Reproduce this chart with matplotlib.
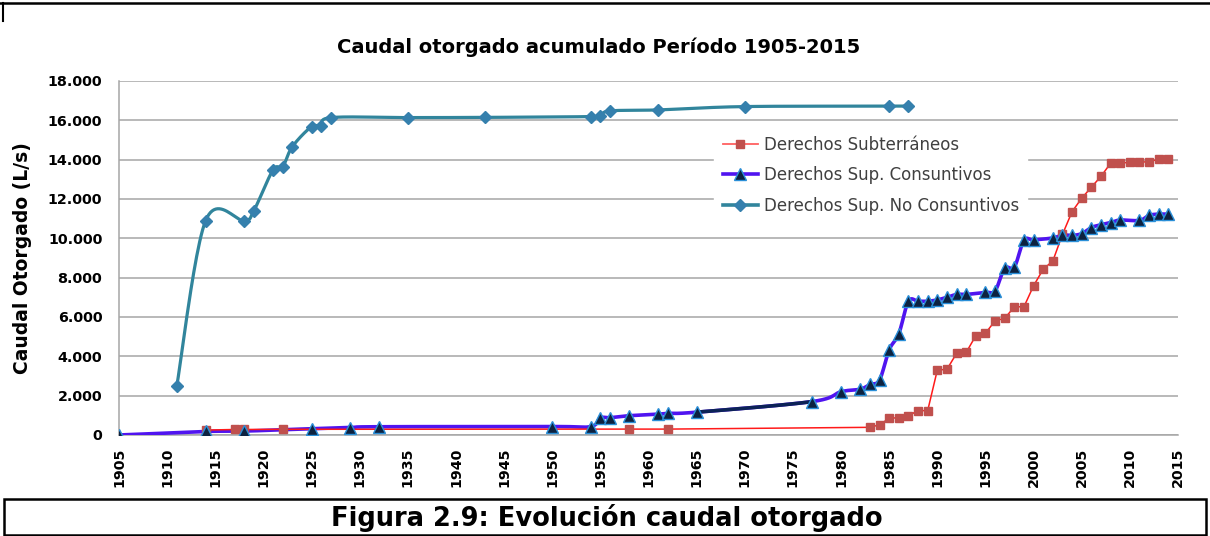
import numpy as np
import matplotlib
matplotlib.use("Agg")
import matplotlib.pyplot as plt
from matplotlib.lines import Line2D
from matplotlib.patches import Rectangle
from matplotlib.ticker import FuncFormatter

plt.rcParams["font.family"] = "DejaVu Sans"

# --- data ------------------------------------------------------------------
sub_years = [1914, 1917, 1918, 1922, 1958, 1962, 1983, 1984, 1985, 1986, 1987,
             1988, 1989, 1990, 1991, 1992, 1993, 1994, 1995, 1996, 1997, 1998,
             1999, 2000, 2001, 2002, 2003, 2004, 2005, 2006, 2007, 2008, 2009,
             2010, 2011, 2012, 2013, 2014]
sub_vals = [250, 280, 280, 290, 300, 300, 390, 520, 850, 880, 980,
            1240, 1240, 3300, 3340, 4150, 4200, 5050, 5170, 5810, 5930, 6520,
            6520, 7590, 8430, 8850, 10200, 11360, 12040, 12600, 13150, 13820, 13820,
            13870, 13870, 13900, 14020, 14020]

con_years = [1905, 1914, 1918, 1925, 1929, 1932, 1950, 1954, 1955, 1956, 1958,
             1961, 1962, 1965, 1977, 1980, 1982, 1983, 1984, 1985, 1986, 1987,
             1988, 1989, 1990, 1991, 1992, 1993, 1995, 1996, 1997, 1998, 1999,
             2000, 2002, 2003, 2004, 2005, 2006, 2007, 2008, 2009, 2011, 2012,
             2013, 2014]
con_vals = [0, 180, 200, 320, 380, 420, 430, 430, 870, 880, 980,
            1060, 1100, 1160, 1700, 2200, 2330, 2570, 2800, 4330, 5150, 6800,
            6800, 6800, 6870, 7000, 7150, 7150, 7250, 7330, 8480, 8540, 9900,
            9920, 10020, 10170, 10150, 10240, 10550, 10690, 10800, 10930, 10910, 11170,
            11230, 11230]

nc_years = [1911, 1914, 1918, 1919, 1921, 1922, 1923, 1925, 1926, 1927, 1935,
            1943, 1954, 1955, 1956, 1961, 1970, 1985, 1987]
nc_vals = [2480, 10900, 10900, 11400, 13480, 13640, 14660, 15680, 15700, 16140,
           16140, 16150, 16190, 16240, 16480, 16530, 16700, 16720, 16740]

labels = ["Derechos Subterráneos", "Derechos Sup. Consuntivos",
          "Derechos Sup. No Consuntivos"]
x_ticks = list(range(1905, 2016, 5))
y_ticks = list(range(0, 18001, 2000))


def smooth(x, y, n=24):
    """Excel-like smoothed line (Catmull-Rom via cubic Bezier)."""
    pts = np.column_stack([x, y]).astype(float)
    P = np.vstack([pts[0], pts, pts[-1]])
    t = np.linspace(0, 1, n)[:, None]
    segs = []
    for i in range(1, len(P) - 2):
        p0, p1, p2, p3 = P[i - 1], P[i], P[i + 1], P[i + 2]
        c1 = p1 + (p2 - p0) / 6
        c2 = p2 - (p3 - p1) / 6
        segs.append((1 - t) ** 3 * p1 + 3 * (1 - t) ** 2 * t * c1
                    + 3 * (1 - t) * t ** 2 * c2 + t ** 3 * p2)
    return segs


fig = plt.figure(figsize=(12.10, 5.36), dpi=100)
ax = fig.add_axes([119 / 1210, 1 - 435 / 536, 1059 / 1210, 354 / 536])

ax.set_xlim(1905, 2015)
ax.set_ylim(0, 18000)
ax.set_yticks(y_ticks)
ax.set_xticks(x_ticks)
ax.yaxis.set_major_formatter(FuncFormatter(lambda v, p: f"{int(v):,}".replace(",", ".")))
ax.grid(axis="y", color="#a6a6a6", lw=1.1, zorder=0)
ax.set_axisbelow(True)
for s in ["top", "right"]:
    ax.spines[s].set_visible(False)
for s in ["left", "bottom"]:
    ax.spines[s].set_color("#a6a6a6")
    ax.spines[s].set_linewidth(1.1)
ax.tick_params(length=0)
ax.tick_params(axis="y", pad=12, labelsize=10.3)
ax.tick_params(axis="x", pad=9, labelsize=10.3, rotation=90)
for lab in ax.get_yticklabels() + ax.get_xticklabels():
    lab.set_fontweight("bold")
for lab in ax.get_xticklabels():
    lab.set_verticalalignment("top")

# non-consumptive (teal)
nc_segs = smooth(nc_years, nc_vals)
nc_curve = np.vstack(nc_segs)
ax.plot(nc_curve[:, 0], nc_curve[:, 1], color="#31859c", lw=2.3, zorder=3,
        solid_capstyle="round")
ax.plot(nc_years, nc_vals, ls="none", marker="D", ms=6.5, color="#3580ad",
        mec="#3580ad", zorder=4)

# consumptive (purple, navy stretch 1965-1977)
con_segs = smooth(con_years, con_vals)
con_curve = np.vstack(con_segs)
ax.plot(con_curve[:, 0], con_curve[:, 1], color="#5014f0", lw=2.6, zorder=3,
        solid_capstyle="round")
i65 = con_years.index(1965)
navy = con_segs[i65]
ax.plot(navy[:, 0], navy[:, 1], color="#0c2356", lw=2.6, zorder=3)
ax.plot(con_years, con_vals, ls="none", marker="^", ms=8.5, color="#0d2240",
        mec="#2a8fd8", mew=1.0, zorder=5)

# groundwater (red)
ax.plot(sub_years, sub_vals, color="#ff1a1a", lw=1.1, zorder=4)
ax.plot(sub_years, sub_vals, ls="none", marker="s", ms=5.5, color="#c0504d",
        mec="#c0504d", zorder=4)

handles = [
    Line2D([], [], color="#ff6060", lw=1.3, marker="s", ms=5.5, mfc="#c0504d", mec="#c0504d"),
    Line2D([], [], color="#5014f0", lw=2.6, marker="^", ms=8.5, mfc="#0d2240", mec="#2a8fd8"),
    Line2D([], [], color="#31859c", lw=2.6, marker="D", ms=6.5, mfc="#3580ad", mec="#3580ad"),
]
leg = ax.legend(handles, labels, loc="upper left",
                bbox_to_anchor=(706 / 1210, 1 - 119 / 536),
                bbox_transform=fig.transFigure, frameon=True, fancybox=False,
                edgecolor="white", facecolor="white", framealpha=1,
                fontsize=12, handlelength=2.1, handletextpad=0.35,
                labelspacing=0.75, borderpad=0.5)
for t in leg.get_texts():
    t.set_color("#404040")
leg.set_zorder(6)

ax.set_ylabel("Caudal Otorgado (L/s)", fontsize=13.5, fontweight="bold")
ax.yaxis.set_label_coords(-0.082, 0.5)

fig.text(599 / 1210, 1 - 47 / 536, "Caudal otorgado acumulado Período 1905-2015",
         ha="center", va="center", fontsize=14, fontweight="bold")

# page frame pieces
fig.add_artist(Line2D([0, 1], [1 - 3 / 536, 1 - 3 / 536], transform=fig.transFigure,
                      color="black", lw=1.8))
fig.add_artist(Line2D([3 / 1210, 3 / 1210], [1 - 3 / 536, 1 - 21 / 536],
                      transform=fig.transFigure, color="black", lw=1.5))
fig.add_artist(Rectangle((4 / 1210, 1 / 536), 1202 / 1210, 36 / 536,
                         transform=fig.transFigure, fill=False,
                         edgecolor="black", lw=1.8))
fig.text(607 / 1210, 1 - 518 / 536, "Figura 2.9: Evolución caudal otorgado",
         ha="center", va="center", fontsize=18.5, fontweight="bold")

fig.savefig("out.png", dpi=100)
